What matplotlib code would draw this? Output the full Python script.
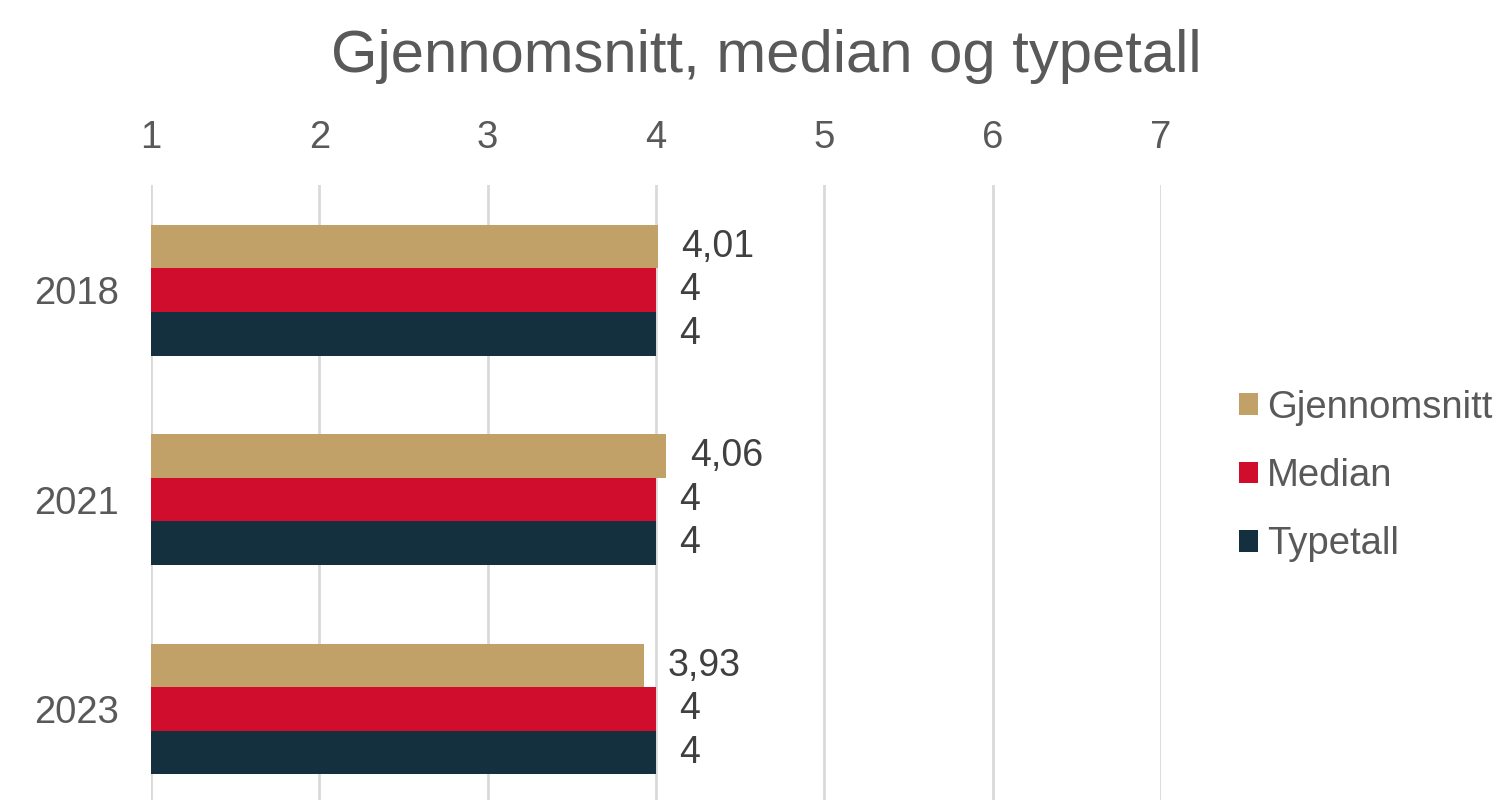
import numpy as np
import matplotlib.pyplot as plt
from matplotlib.patches import Patch

plt.rcParams['font.family'] = ['Liberation Sans', 'DejaVu Sans']

years = ['2018', '2021', '2023']
gjennomsnitt = [4.01, 4.06, 3.93]
median = [4, 4, 4]
typetall = [4, 4, 4]
series_names = ['Gjennomsnitt', 'Median', 'Typetall']
colors = ['#C1A167', '#D00D2C', '#14303F']
text_color = '#595959'

fig = plt.figure(figsize=(15.02, 8.0), dpi=100)
ax = fig.add_axes([0.1005, 0.0, 0.6725, 0.769])

y = np.arange(len(years))
h = 0.208
for i, (vals, c) in enumerate(zip([gjennomsnitt, median, typetall], colors)):
    pos = y + (i - 1) * h
    ax.barh(pos, vals, height=h, color=c, left=0, zorder=2)
    for p, v in zip(pos, vals):
        lab = f'{v:.2f}'.replace('.', ',') if v != int(v) else str(int(v))
        ax.annotate(lab, (v, p), xytext=(17, 0), textcoords='offset points',
                    va='center', ha='left', fontsize=27, color='#404040')

ax.set_xlim(1, 7)
ax.set_ylim(2.434, -0.503)
ax.set_xticks(range(1, 8))
ax.set_yticks(y)
ax.set_yticklabels(years)
ax.xaxis.tick_top()
ax.tick_params(axis='x', length=0, pad=21, labelsize=27.5, labelcolor=text_color)
ax.tick_params(axis='y', length=0, pad=23, labelsize=27.5, labelcolor=text_color)
ax.grid(axis='x', color='#D9D9D9', linewidth=2, zorder=0)
ax.set_axisbelow(True)
for s in ax.spines.values():
    s.set_visible(False)

fig.text(0.51, 0.91, 'Gjennomsnitt, median og typetall', ha='center', va='baseline',
         fontsize=43, color=text_color)

handles = [Patch(facecolor=c, label=n) for c, n in zip(colors, series_names)]
fig.legend(handles=handles, loc='center left', bbox_to_anchor=(0.825, 0.405),
           frameon=False, fontsize=27.5, labelcolor=text_color,
           handlelength=0.5, handleheight=0.5, handletextpad=0.22,
           labelspacing=0.85, borderaxespad=0, borderpad=0)

fig.savefig('out.png', dpi=100)
